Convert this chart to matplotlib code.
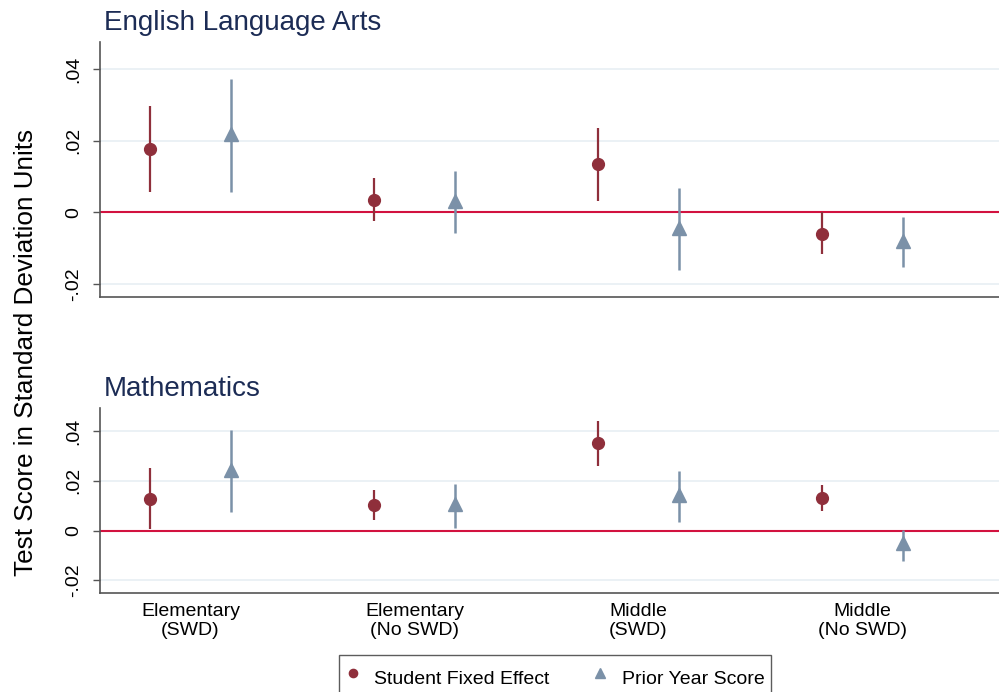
import numpy as np
import matplotlib
matplotlib.use("Agg")
import matplotlib.pyplot as plt

plt.rcParams['font.family'] = ['Liberation Sans', 'DejaVu Sans']

groups = ["Elementary\n(SWD)", "Elementary\n(No SWD)", "Middle\n(SWD)", "Middle\n(No SWD)"]
panels = ["English Language Arts", "Mathematics"]

# point estimates and 95% CI bounds, ELA then Math
fe_est = [[0.0177, 0.0035, 0.0134, -0.0059], [0.0129, 0.0102, 0.0351, 0.0131]]
fe_lo = [[0.0058, -0.0023, 0.0032, -0.0117], [0.0006, 0.0042, 0.0260, 0.0078]]
fe_hi = [[0.0296, 0.0096, 0.0235, 0.0000], [0.0250, 0.0162, 0.0440, 0.0182]]

py_est = [[0.0218, 0.0032, -0.0043, -0.0079], [0.0243, 0.0105, 0.0142, -0.0052]]
py_lo = [[0.0058, -0.0057, -0.0160, -0.0153], [0.0074, 0.0009, 0.0035, -0.0122]]
py_hi = [[0.0372, 0.0115, 0.0068, -0.0014], [0.0404, 0.0186, 0.0239, 0.0004]]

red = "#8f2f3b"
blue = "#7b91a8"
navy = "#1c2c55"
axcol = "#555555"

fig = plt.figure(figsize=(9.99, 6.92), dpi=100)
ax1 = fig.add_axes([0.1001, 0.5708, 0.8999, 0.3685])
ax2 = fig.add_axes([0.1001, 0.1431, 0.8999, 0.2673])
ylims = [(-0.0236, 0.0475), (-0.0251, 0.0493)]

x = np.arange(1, len(groups) + 1)
off = 0.181
for i, ax in enumerate([ax1, ax2]):
    ax.set_xlim(0.596, 4.609)
    ax.set_ylim(*ylims[i])
    ax.set_yticks([-0.02, 0, 0.02, 0.04])
    ax.set_yticklabels(["-.02", "0", ".02", ".04"], rotation=90, va="center")
    ax.grid(axis="y", color="#e8eff4", lw=1.2)
    ax.set_axisbelow(True)
    ax.axhline(0, color="#d2123f", lw=1.5, zorder=2)
    ax.vlines(x - off, fe_lo[i], fe_hi[i], color=red, lw=1.6, zorder=3)
    ax.plot(x - off, fe_est[i], "o", color=red, ms=8.5, ls="none", zorder=4,
            label="Student Fixed Effect")
    ax.vlines(x + off, py_lo[i], py_hi[i], color=blue, lw=1.8, zorder=3)
    ax.plot(x + off, py_est[i], "^", color=blue, ms=9.5, ls="none", zorder=4,
            label="Prior Year Score")
    for s in ["top", "right"]:
        ax.spines[s].set_visible(False)
    for s in ["left", "bottom"]:
        ax.spines[s].set_color(axcol)
        ax.spines[s].set_linewidth(1.2)
    ax.tick_params(axis="y", length=5, width=1, color=axcol, labelsize=14, pad=8)
    ax.set_title(panels[i], loc="left", fontsize=20, color=navy, x=0.004, pad=8.5)

ax1.set_xticks([])
ax2.set_xticks(x)
ax2.set_xticklabels(groups, fontsize=14, linespacing=1.2)
ax2.tick_params(axis="x", length=0, pad=7)

fig.text(0.026, 0.4906, "Test Score in Standard Deviation Units", rotation=90,
         ha="center", va="center", fontsize=18.8)

handles, labels = ax2.get_legend_handles_labels()
leg = fig.legend(handles, labels, loc="upper center", bbox_to_anchor=(0.5555, 0.0535),
                 ncol=2, fontsize=14, frameon=True, fancybox=False,
                 edgecolor="#333333", handletextpad=0.7, columnspacing=2.2,
                 borderpad=0.35, borderaxespad=0, handlelength=0.8,
                 handleheight=2.2, markerscale=0.7)
leg.get_frame().set_linewidth(1.0)

fig.savefig("out.png", dpi=100)
